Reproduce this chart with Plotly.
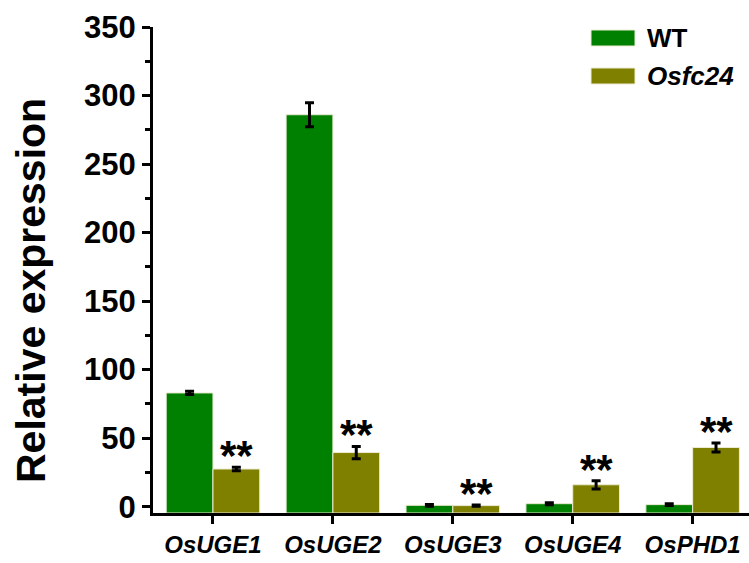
import plotly.graph_objects as go

# Gene categories and relative expression (mean, SD)
genes = ["OsUGE1", "OsUGE2", "OsUGE3", "OsUGE4", "OsPHD1"]
wt_values = [83, 286, 1.0, 2.2, 1.5]
wt_errors = [1.2, 8.7, 0.6, 0.7, 0.7]
mut_values = [27.5, 39.5, 0.8, 16, 43.2]
mut_errors = [1.2, 4.5, 0.5, 3.0, 3.3]
significance = ["**", "**", "**", "**", "**"]
series_names = ["WT", "Osfc24"]

Y_MIN, Y_MAX = -4.6, 350
GREEN = "#008000"
OLIVE = "#808000"
EDGE = "#ecebd2"
FONT = "Arial, 'Liberation Sans', sans-serif"

W, H = 749, 563
ML, MR, MT, MB = 153, 0, 27, 50
PW, PH = W - ML - MR, H - MT - MB


def px_x(p):
    return (p - ML) / PW


def px_y(p):
    return 1 - (p - MT) / PH


fig = go.Figure()
for vals, errs, color, name in [
    (wt_values, wt_errors, GREEN, series_names[0]),
    (mut_values, mut_errors, OLIVE, series_names[1]),
]:
    fig.add_trace(go.Bar(
        x=genes,
        y=[v - Y_MIN for v in vals],
        base=Y_MIN,
        name=name,
        marker=dict(color=color, line=dict(color=EDGE, width=1)),
        error_y=dict(type="data", array=errs, symmetric=True,
                     color="black", thickness=3, width=4.5),
        showlegend=False,
    ))

# significance marks above the mutant bars
for i, (v, e, s) in enumerate(zip(mut_values, mut_errors, significance)):
    fig.add_annotation(
        x=i + 0.195, y=v + e, xref="x", yref="y",
        text=f"<b>{s}</b>", showarrow=False,
        yanchor="bottom", yshift=-14,
        font=dict(family=FONT, size=42, color="black"),
    )

# legend swatches and labels
legend_rows = [(GREEN, "<b>WT</b>", 30, 46), (OLIVE, "<b><i>Osfc24</i></b>", 68, 84)]
for color, label, y0, y1 in legend_rows:
    fig.add_shape(type="rect", xref="paper", yref="paper",
                  x0=px_x(591), x1=px_x(635), y0=px_y(y1), y1=px_y(y0),
                  fillcolor=color, line=dict(color=EDGE, width=1))
    fig.add_annotation(x=px_x(645), y=px_y((y0 + y1) / 2), xref="paper", yref="paper",
                       text=label, showarrow=False, xanchor="left", yanchor="middle",
                       font=dict(family=FONT, size=26, color="black"))

# y-axis title
fig.add_annotation(x=px_x(31), y=px_y(291), xref="paper", yref="paper",
                   text="<b>Relative expression</b>", showarrow=False, textangle=-90,
                   xanchor="center", yanchor="middle",
                   font=dict(family=FONT, size=41, color="black"))

fig.update_layout(
    width=W, height=H,
    margin=dict(l=ML, r=MR, t=MT, b=MB),
    paper_bgcolor="white", plot_bgcolor="white",
    barmode="group", bargap=0.22, bargroupgap=0,
    font=dict(family=FONT, color="black"),
)
fig.update_xaxes(
    range=[-0.5, 4.47], showline=True, linecolor="black", linewidth=3,
    ticks="outside", ticklen=8, tickwidth=2.5, tickcolor="black",
    tickfont=dict(family=FONT, size=24, weight="bold", style="italic", color="black"),
    showgrid=False, zeroline=False,
)
fig.update_yaxes(
    range=[Y_MIN, Y_MAX], showline=True, linecolor="black", linewidth=3,
    tickvals=[0, 50, 100, 150, 200, 250, 300, 350],
    ticks="outside", ticklen=8, tickwidth=2.5, tickcolor="black",
    minor=dict(tickvals=[25, 75, 125, 175, 225, 275, 325], ticks="outside",
               ticklen=5, tickwidth=2.5, tickcolor="black"),
    tickfont=dict(family=FONT, size=31, weight="bold", color="black"),
    showgrid=False, zeroline=False,
)

fig.write_html("out.html")
